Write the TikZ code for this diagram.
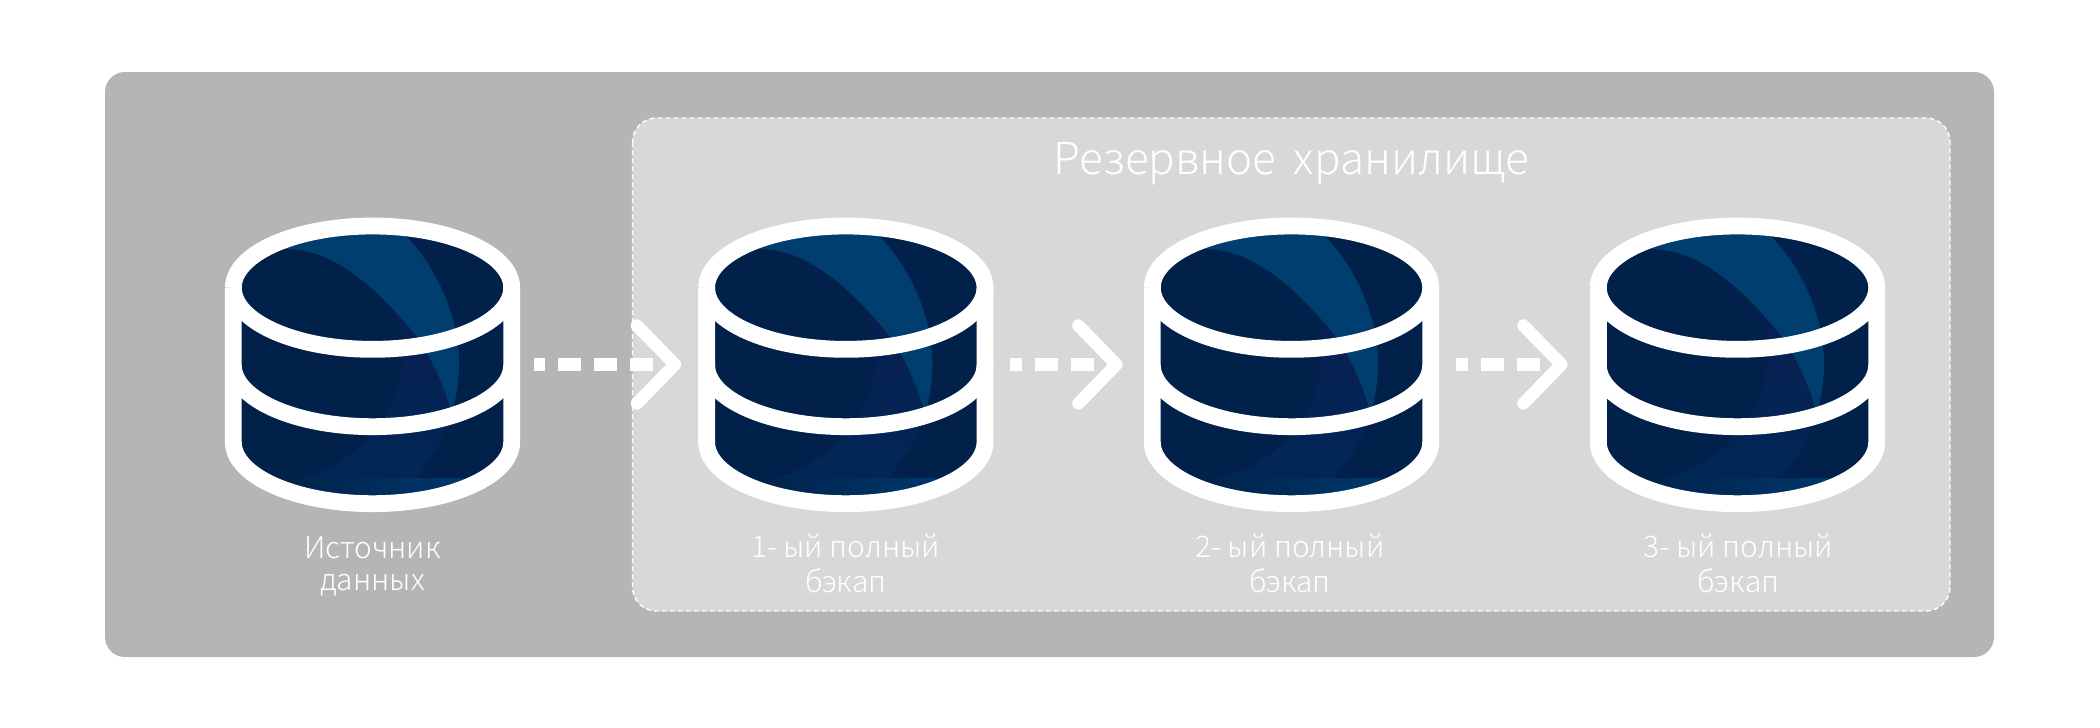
\documentclass[tikz,border=0pt]{standalone}
\usepackage{fontspec}
\usetikzlibrary{arrows.meta,calc}
\newfontfamily\lblfont{Noto Sans CJK SC Light}
\definecolor{outerbg}{HTML}{B5B5B5}
\definecolor{innerbg}{HTML}{D8D8D8}
\definecolor{navy}{HTML}{01214A}
\definecolor{bandblue}{HTML}{003E70}
\definecolor{purpletop}{HTML}{081F50}
\definecolor{purplebot}{HTML}{012757}
\definecolor{stripl}{HTML}{01234C}
\definecolor{stripr}{HTML}{00376A}
\tikzset{
  outerbox/.style={fill=outerbg,draw=none,rounded corners=10pt},
  innerbox/.style={fill=innerbg,draw=white,line width=0.7pt,dash pattern=on 2.5pt off 1.5pt,rounded corners=12pt},
  cylbox/.style={inner sep=0pt,minimum width=147.5pt,minimum height=147.5pt},
  cylline/.style={draw=white,line width=8.4pt,line join=round},
  flow/.style={draw=white,line width=6.3pt,dash pattern=on 11.5pt off 6.5pt,dash phase=5.65pt,
    -{Straight Barb[length=19pt,width=39pt,line width=6.2pt,round]}},
  lbl/.style={text=white,font=\lblfont\fontsize{14.9pt}{16.4pt}\selectfont,align=center,inner sep=0pt},
  ttl/.style={text=white,font=\lblfont\fontsize{22pt}{25pt}\selectfont,inner sep=0pt}
}
\newcommand{\cylinderat}[2]{%
  \node[cylbox] (#2) at (#1+372.5,364.5) {};
  \begin{scope}[shift={(#1+200,190)},x=0.16667pt,y=-0.16667pt]
    \begin{scope}
      \clip (100,293) arc[start angle=180,end angle=360,x radius=417.5,y radius=185]
        -- (935,756) arc[start angle=0,end angle=180,x radius=417.5,y radius=185] -- cycle;
      \fill[navy] (90,90) rectangle (945,960);
      \fill[bandblue] (200,100) -- (200,160) -- (270,178)
        .. controls (400,180) and (530,290) .. (650,440)
        .. controls (690,500) and (730,580) .. (755,670)
        .. controls (785,570) and (780,480) .. (765,415)
        .. controls (740,300) and (680,200) .. (610,130) -- (610,100) -- cycle;
      \shade[top color=purpletop,bottom color=purplebot] (570,355)
        .. controls (600,400) and (615,450) .. (610,500)
        .. controls (600,610) and (560,690) .. (500,750)
        .. controls (440,810) and (370,850) .. (300,865)
        -- (645,865)
        .. controls (690,810) and (725,760) .. (740,705) -- (755,670)
        .. controls (730,580) and (690,500) .. (650,440)
        .. controls (625,410) and (600,380) .. (570,355) -- cycle;
      \shade[left color=stripl,right color=stripr] (260,865) rectangle (790,1000);
    \end{scope}
    \draw[cylline] (100,293) arc[start angle=180,end angle=540,x radius=417.5,y radius=185];
    \draw[cylline] (100,293) -- (100,756) arc[start angle=180,end angle=0,x radius=417.5,y radius=185] -- (935,293);
    \draw[cylline] (100,525) arc[start angle=180,end angle=0,x radius=417.5,y radius=185];
  \end{scope}
}
\begin{document}
\begin{tikzpicture}[x=0.5pt,y=-0.5pt]
  \useasboundingbox (0,0) rectangle (2100,728);
  \fill[white] (0,0) rectangle (2100,728);
  \path[outerbox] (105,72) rectangle (1994,657);
  \path[innerbox] (632.5,118) rectangle (1950,611);
  \node[ttl] (title) at (1291.5,164) {Резервное\hspace{0.4em}хранилище};
  \cylinderat{0}{cyla}
  \cylinderat{473.3}{cylb}
  \cylinderat{919}{cylc}
  \cylinderat{1365}{cyld}
  \draw[flow] ([xshift=6.67pt]cyla.east) -- ([xshift=-8.4pt]cylb.west);
  \draw[flow] ([xshift=8.35pt]cylb.east) -- ([xshift=-10.5pt]cylc.west);
  \draw[flow] ([xshift=8.25pt]cylc.east) -- ([xshift=-11pt]cyld.west);
  \node[lbl] (la) at (372.5,568) {\strut Источник\\\strut данных};
  \node[lbl] (lb) at (845.8,568) {\strut 1- ый полный\\\strut бэкап};
  \node[lbl] (lc) at (1290,568) {\strut 2- ый полный\\\strut бэкап};
  \node[lbl] (ld) at (1738.5,568) {\strut 3- ый полный\\\strut бэкап};
\end{tikzpicture}
\end{document}
